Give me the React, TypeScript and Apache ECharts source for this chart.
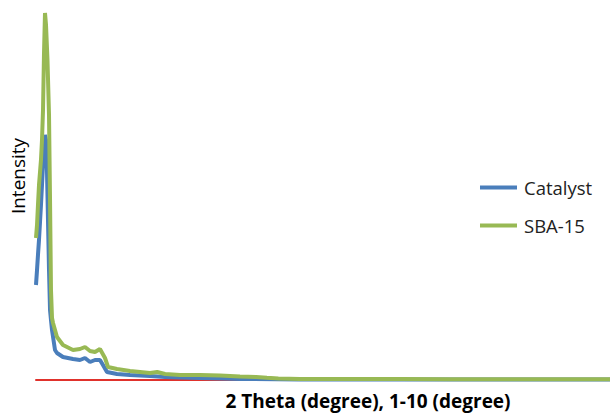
import React, { useEffect, useRef } from "react";
import * as echarts from "echarts";

// 2θ (degree) and intensity (arbitrary units)
const catalystX = [1.0, 1.016, 1.031, 1.047, 1.063, 1.078, 1.094, 1.11, 1.125, 1.141, 1.157, 1.172, 1.188, 1.204, 1.22, 1.235, 1.251, 1.298, 1.329, 1.423, 1.58, 1.69, 1.768, 1.847, 1.925, 2.003, 2.05, 2.113, 2.27, 2.474, 2.787, 3.023, 3.258, 3.571, 4.198, 5.139, 6.5, 8.0, 10.0];
const catalystY = [95, 110, 125, 140, 158, 175, 195, 215, 235, 245, 240, 210, 160, 110, 70, 60, 50, 30, 27, 23, 21, 20, 22, 18, 20, 20, 15, 8, 6, 5, 4, 3, 2.5, 2, 1, 0.6, 0.5, 0.5, 0.5];

const sbaX = [1.0, 1.016, 1.031, 1.047, 1.078, 1.094, 1.11, 1.125, 1.141, 1.157, 1.18, 1.204, 1.22, 1.235, 1.251, 1.267, 1.329, 1.423, 1.58, 1.69, 1.768, 1.847, 1.925, 2.003, 2.082, 2.129, 2.27, 2.474, 2.787, 2.9, 3.023, 3.258, 3.571, 3.885, 4.198, 4.45, 4.62, 4.8, 5.139, 5.923, 6.707, 7.491, 8.275, 9.059, 10.0];
const sbaY = [142, 155, 175, 195, 220, 240, 270, 325, 367, 355, 320, 265, 180, 90, 62, 57, 43, 35, 30, 31, 33, 29, 28, 31, 22, 13, 11, 9, 7, 8, 6, 5, 5, 4.5, 3.5, 3, 2.2, 1.5, 1.1, 1, 0.9, 0.8, 0.8, 0.8, 0.8];

const seriesNames = ["Catalyst", "SBA-15"];
const xTitle = "2 Theta (degree), 1-10 (degree)";
const yTitle = "Intensity";

const FONT = "'Open Sans', sans-serif";

export default function App() {
  const ref = useRef<HTMLDivElement>(null);
  useEffect(() => {
    if (!ref.current) return;
    const chart = echarts.init(ref.current, null, { renderer: "svg" });
    const zip = (xs: number[], ys: number[]) => xs.map((x, i) => [x, ys[i]]);
    chart.setOption({
      animation: false,
      backgroundColor: "#ffffff",
      grid: { left: 36, right: 0, top: 0, bottom: 33, containLabel: false },
      xAxis: {
        type: "value",
        min: 1,
        max: 10,
        axisLine: { show: true, lineStyle: { color: "#E0322C", width: 2 } },
        axisTick: { show: false },
        axisLabel: { show: false },
        splitLine: { show: false },
      },
      yAxis: {
        type: "value",
        min: 0,
        max: 380,
        show: false,
      },
      legend: {
        orient: "vertical",
        left: 475,
        top: 173,
        itemWidth: 37,
        itemHeight: 4,
        itemGap: 19,
        icon: "rect",
        textStyle: { fontFamily: FONT, fontSize: 18.5, color: "#222", padding: [0, 0, 0, 2] },
        data: seriesNames,
      },
      graphic: [
        {
          type: "text",
          x: 18,
          y: 176,
          rotation: Math.PI / 2,
          style: {
            text: yTitle,
            fontFamily: FONT,
            fontSize: 19,
            fill: "#000",
            align: "center",
            verticalAlign: "middle",
          },
        },
        {
          type: "text",
          x: 368,
          y: 401,
          style: {
            text: xTitle,
            fontFamily: FONT,
            fontSize: 19,
            fontWeight: "bold",
            fill: "#000",
            align: "center",
            verticalAlign: "middle",
          },
        },
      ],
      series: [
        {
          name: seriesNames[0],
          type: "line",
          data: zip(catalystX, catalystY),
          showSymbol: false,
          symbol: "none",
          lineStyle: { color: "#4A7EBB", width: 4 },
          itemStyle: { color: "#4A7EBB" },
          z: 2,
        },
        {
          name: seriesNames[1],
          type: "line",
          data: zip(sbaX, sbaY),
          showSymbol: false,
          symbol: "none",
          lineStyle: { color: "#98B954", width: 4 },
          itemStyle: { color: "#98B954" },
          z: 3,
        },
      ],
    });
    return () => chart.dispose();
  }, []);
  return <div ref={ref} style={{ width: 610, height: 413, position: "absolute", left: 0, top: 0 }} />;
}
